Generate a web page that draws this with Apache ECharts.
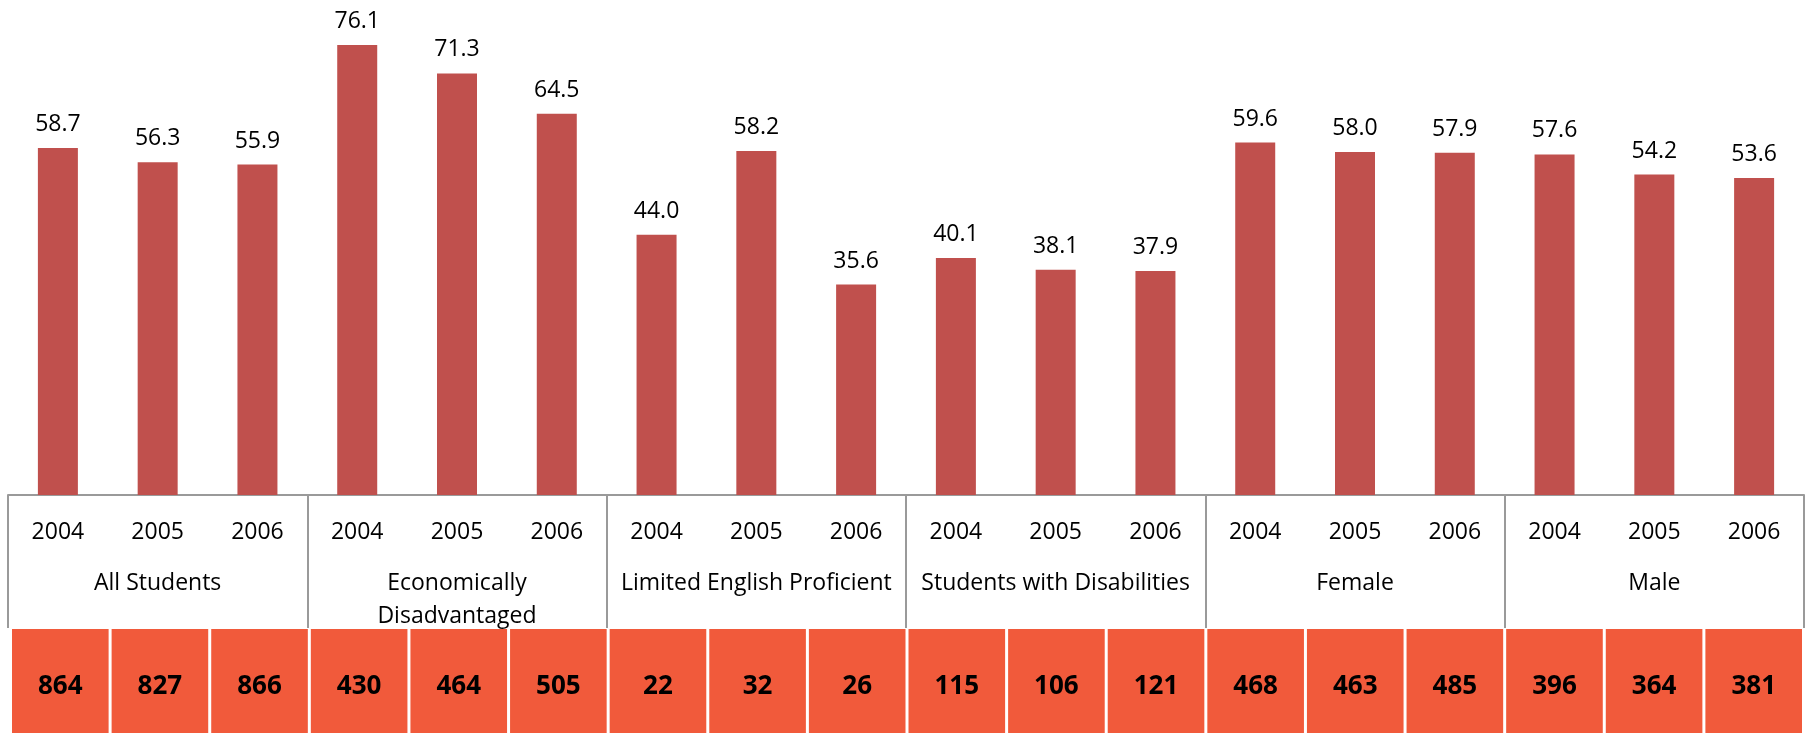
<!DOCTYPE html>
<html>
<head>
<meta charset="utf-8">
<script src="https://cdn.jsdelivr.net/npm/echarts@6/dist/echarts.min.js"></script>
<style>
html,body{margin:0;padding:0;background:#fff;}
#chart{width:1810px;height:733px;}
</style>
</head>
<body>
<div id="chart"></div>
<script>
const years = ['2004','2005','2006','2004','2005','2006','2004','2005','2006','2004','2005','2006','2004','2005','2006','2004','2005','2006'];
const groups = ['All Students','Economically\nDisadvantaged','Limited English Proficient','Students with Disabilities','Female','Male'];
const values = [58.7,56.3,55.9,76.1,71.3,64.5,44.0,58.2,35.6,40.1,38.1,37.9,59.6,58.0,57.9,57.6,54.2,53.6];
const counts = [864,827,866,430,464,505,22,32,26,115,106,121,468,463,485,396,364,381];

const FONT = '"Open Sans", "Liberation Sans", sans-serif';
const chart = echarts.init(document.getElementById('chart'), null, {renderer:'canvas'});
const option = {
  animation: false,
  backgroundColor: '#ffffff',
  grid: [
    {left: 8, right: 6, top: 22, bottom: 238, containLabel: false},
    {left: 10.5, right: 6.5, top: 629, bottom: 0, containLabel: false}
  ],
  xAxis: [
    {
      type: 'category', gridIndex: 0, data: years, position: 'bottom',
      axisLine: {show: true, lineStyle: {color: '#9a9a9a', width: 2}},
      axisTick: {show: false},
      axisLabel: {color: '#000', fontFamily: FONT, fontSize: 23, margin: 21, lineHeight: 32, interval: 0}
    },
    {
      type: 'category', gridIndex: 0, data: groups, position: 'bottom',
      axisLine: {show: false},
      axisTick: {show: true, length: 133, alignWithLabel: false, interval: 0, lineStyle: {color: '#9a9a9a', width: 2}},
      axisLabel: {color: '#000', fontFamily: FONT, fontSize: 23, margin: 72, lineHeight: 33, interval: 0}
    },
    {
      type: 'category', gridIndex: 1, data: years,
      show: false
    }
  ],
  yAxis: [
    {type: 'value', gridIndex: 0, min: 0, max: 80, show: false},
    {type: 'category', gridIndex: 1, data: ['n'], show: false}
  ],
  series: [
    {
      type: 'bar', xAxisIndex: 0, yAxisIndex: 0, data: values, barWidth: 40,
      itemStyle: {color: '#C0504D'},
      label: {
        show: true, position: 'top', distance: 12, color: '#000',
        fontFamily: FONT, fontSize: 23,
        formatter: p => p.value.toFixed(1)
      }
    },
    {
      type: 'custom', xAxisIndex: 2, yAxisIndex: 1,
      data: counts.map((c, i) => [i, 0, c]),
      renderItem: function (params, api) {
        const c = api.coord([api.value(0), api.value(1)]);
        const s = api.size([1, 1]);
        const gap = 3;
        const x = c[0] - s[0] / 2 + gap / 2;
        const y = c[1] - s[1] / 2;
        return {
          type: 'group',
          children: [
            {type: 'rect', shape: {x: x, y: y, width: s[0] - gap, height: s[1]}, style: {fill: '#F15A3B'}},
            {type: 'text', style: {
              text: String(api.value(2)), x: c[0], y: c[1] + 6,
              align: 'center', verticalAlign: 'middle',
              fill: '#000', font: 'bold 26px ' + FONT
            }}
          ]
        };
      }
    }
  ]
};
chart.setOption(option);
</script>
</body>
</html>
